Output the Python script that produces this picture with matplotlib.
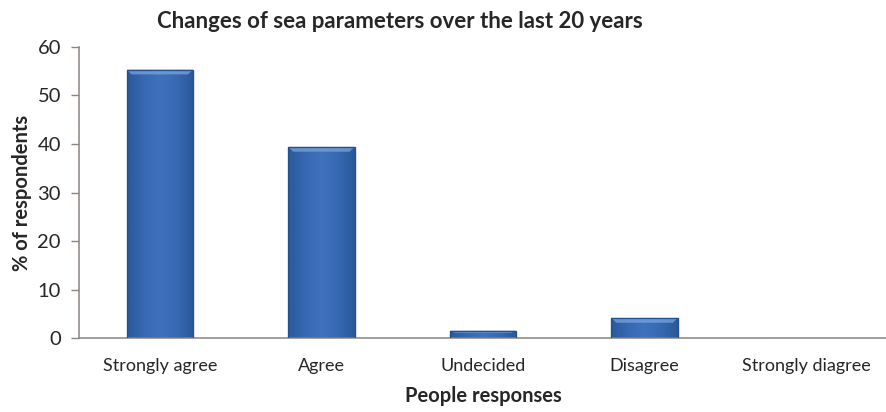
import numpy as np
import matplotlib
matplotlib.use("Agg")
import matplotlib.pyplot as plt
from matplotlib.colors import LinearSegmentedColormap

# survey responses, % of respondents
categories = ["Strongly agree", "Agree", "Undecided", "Disagree", "Strongly diagree"]
percent = [55.3, 39.4, 1.6, 4.2, 0.0]

TEXT = "#262626"
AXIS = "#8c8480"

plt.rcParams["font.family"] = ["Lato", "DejaVu Sans"]

fig = plt.figure(figsize=(8.86, 4.12), dpi=100)
ax = fig.add_axes([79 / 886, 1 - 338.3 / 412, 808 / 886, 291.6 / 412])

x = np.arange(len(categories))
bars = ax.bar(x, percent, width=0.41, color="#3b6db4", edgecolor="#24508f",
              linewidth=0.8, zorder=2)

# shaded fill: darker sides, lighter middle, with a bright bevel on top
shade = LinearSegmentedColormap.from_list(
    "bar", ["#2a589a", "#3769b2", "#3e72bc", "#3769b2", "#2a589a"])
grad = np.linspace(0, 1, 64).reshape(1, -1)
for b in bars:
    h = b.get_height()
    if h <= 0:
        continue
    x0, w = b.get_x(), b.get_width()
    im = ax.imshow(grad, cmap=shade, aspect="auto", zorder=2.5,
                   extent=[x0, x0 + w, 0, h], interpolation="bicubic")
    im.set_clip_path(b)
    bev = min(1.0, h * 0.3)
    ax.fill([x0, x0 + w, x0 + w - 0.03, x0 + 0.03],
            [h, h, h - bev, h - bev], color="#7aa3db", alpha=0.75,
            lw=0, zorder=2.6)
    ax.add_patch(plt.Rectangle((x0, 0), w, h, fill=False, ec="#23508f",
                               lw=0.9, zorder=2.7))

ax.set_xlim(-0.5, len(categories) - 0.5)
ax.set_ylim(0, 60)
ax.set_yticks(range(0, 61, 10))
ax.set_xticks(x)
ax.set_xticklabels(categories, fontsize=13, color=TEXT)
ax.tick_params(axis="y", labelsize=14.5, labelcolor=TEXT, color=AXIS,
               length=6, width=1, pad=7)
ax.tick_params(axis="x", length=0, pad=14)

for side in ("top", "right"):
    ax.spines[side].set_visible(False)
for side in ("left", "bottom"):
    ax.spines[side].set_color(AXIS)
    ax.spines[side].set_linewidth(1.1)

ax.set_xlabel("People responses", fontsize=14.5, fontweight="bold",
              color=TEXT, labelpad=9)
ax.set_ylabel("% of respondents", fontsize=14.5, fontweight="bold",
              color=TEXT, labelpad=4)
fig.text(400 / 886, 1 - 22 / 412, "Changes of sea parameters over the last 20 years",
         ha="center", va="center", fontsize=16, fontweight="bold", color=TEXT)

fig.savefig("out.png", dpi=100)
